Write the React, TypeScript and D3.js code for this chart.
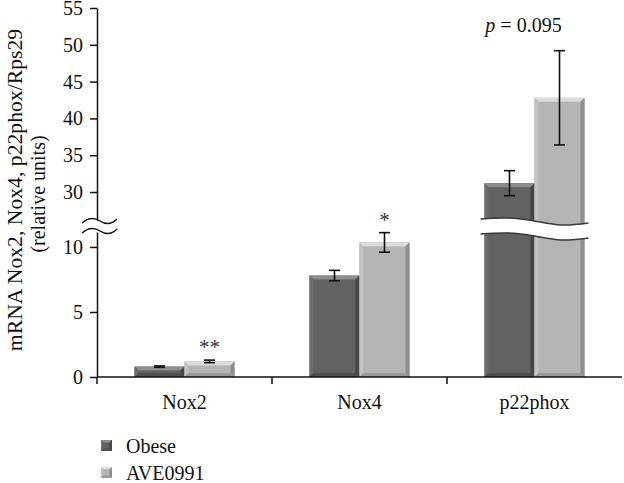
import * as d3 from "d3";
import { useEffect, useRef } from "react";

const categories = ["Nox2", "Nox4", "p22phox"];
const groups = ["Obese", "AVE0991"];
const obeseMeans = [0.8, 7.8, 31.2];
const obeseErrors = [0.05, 0.4, 1.7];
const aveMeans = [1.2, 10.35, 42.8];
const aveErrors = [0.1, 0.75, 6.4];
const lowTicks = [0, 5, 10];
const highTicks = [30, 35, 40, 45, 50, 55];
const marks = ["**", "*", ""];
const pNote = "0.095";

const W = 624;
const H = 483;
const FONT = "'Liberation Serif', 'Times New Roman', serif";

const shades = {
  Obese: { base: "#5a5a5a", mid: "#626262", top: "#8e8e8e", left: "#6c6c6c", right: "#474747", bottom: "#505050" },
  AVE0991: { base: "#a9a9a9", mid: "#b4b4b4", top: "#dcdcdc", left: "#c2c2c2", right: "#8e8e8e", bottom: "#9a9a9a" }
};

const drawBevel = (g, x, y, w, h, c, b) => {
  g.append("rect").attr("x", x).attr("y", y).attr("width", w).attr("height", h).attr("fill", c.base);
  g.append("rect")
    .attr("x", x + b).attr("y", y + b).attr("width", Math.max(0, w - 2 * b)).attr("height", Math.max(0, h - 2 * b))
    .attr("fill", c.mid);
  const poly = (pts, fill) =>
    g.append("polygon").attr("points", pts.map((p) => p.join(",")).join(" ")).attr("fill", fill);
  poly([[x, y], [x + w, y], [x + w - b, y + b], [x + b, y + b]], c.top);
  poly([[x, y], [x + b, y + b], [x + b, y + h - b], [x, y + h]], c.left);
  poly([[x + w, y], [x + w - b, y + b], [x + w - b, y + h - b], [x + w, y + h]], c.right);
  poly([[x, y + h], [x + b, y + h - b], [x + w - b, y + h - b], [x + w, y + h]], c.bottom);
};

const createChart = (node) => {
  const svg = d3.select(node);
  svg.selectAll("*").remove();

  const left = 97;
  const right = 622;
  const baseY = 377;
  const breakLow = 11.15;

  const x = d3.scaleBand().domain(categories).range([left, right]).paddingInner(0).paddingOuter(0);
  const xg = d3.scaleBand().domain(groups).range([0, x.bandwidth()]).paddingInner(0).paddingOuter(0.75);
  const yLow = d3.scaleLinear().domain([0, breakLow]).range([baseY, 232]);
  const yHigh = d3.scaleLinear().domain([26.2, 55]).range([220, 8]);
  const y = (v) => (v > breakLow ? yHigh(v) : yLow(v));

  const series = [
    { name: "Obese", means: obeseMeans, errs: obeseErrors },
    { name: "AVE0991", means: aveMeans, errs: aveErrors }
  ];

  // bars
  const bars = svg.append("g");
  series.forEach((s) => {
    categories.forEach((c, i) => {
      const x0 = x(c) + xg(s.name);
      const top = y(s.means[i]);
      drawBevel(bars, x0, top, xg.bandwidth(), baseY - top, shades[s.name], 4);
    });
  });

  // break across the p22phox bars
  const bx0 = x("p22phox") + xg("Obese") - 4;
  const bx1 = x("p22phox") + xg("AVE0991") + xg.bandwidth() + 4;
  const wave = [0, -1, 2, 6, 4];
  const wx = d3.scaleLinear().domain([0, wave.length - 1]).range([bx0, bx1]);
  const upper = wave.map((o, i) => [wx(i), 219 + o]);
  const lower = wave.map((o, i) => [wx(i), 234 + o]);
  const curve = d3.line().curve(d3.curveNatural);
  svg
    .append("path")
    .attr("d", curve(upper) + "L" + curve(lower.slice().reverse()).slice(1) + "Z")
    .attr("fill", "white");
  [upper, lower].forEach((pts) => {
    svg.append("path").attr("d", curve(pts)).attr("fill", "none").attr("stroke", "#3a3a3a").attr("stroke-width", 1.6);
  });

  // error bars
  const eb = svg.append("g").attr("stroke", "#111").attr("stroke-width", 1.6);
  series.forEach((s) => {
    categories.forEach((c, i) => {
      const cx = x(c) + xg(s.name) + xg.bandwidth() / 2;
      const y1 = y(s.means[i] + s.errs[i]);
      const y2 = y(s.means[i] - s.errs[i]);
      eb.append("line").attr("x1", cx).attr("x2", cx).attr("y1", y1).attr("y2", y2);
      eb.append("line").attr("x1", cx - 5.5).attr("x2", cx + 5.5).attr("y1", y1).attr("y2", y1);
      eb.append("line").attr("x1", cx - 5.5).attr("x2", cx + 5.5).attr("y1", y2).attr("y2", y2);
    });
  });

  // significance marks
  categories.forEach((c, i) => {
    if (!marks[i]) return;
    const cx = x(c) + xg("AVE0991") + xg.bandwidth() / 2;
    svg
      .append("text")
      .attr("x", cx)
      .attr("y", y(aveMeans[i] + aveErrors[i]) - 6)
      .attr("text-anchor", "middle")
      .attr("font-family", FONT)
      .attr("font-size", 21)
      .attr("fill", "#333")
      .text(marks[i]);
  });
  const pt = svg
    .append("text")
    .attr("x", x("p22phox") + x.bandwidth() / 2 - 11)
    .attr("y", 32)
    .attr("text-anchor", "middle")
    .attr("font-family", FONT)
    .attr("font-size", 20)
    .attr("fill", "#111");
  pt.append("tspan").attr("font-style", "italic").text("p");
  pt.append("tspan").text(" = " + pNote);

  // y axes
  const styleAxis = (g) => {
    g.attr("font-family", FONT).attr("font-size", 20);
    g.selectAll("text").attr("fill", "#111");
    g.selectAll("line").attr("stroke", "#111").attr("stroke-width", 1.5);
    g.select(".domain").attr("stroke", "#111").attr("stroke-width", 1.5);
  };
  svg
    .append("g")
    .attr("transform", `translate(${left},0)`)
    .call(d3.axisLeft(yLow).tickValues(lowTicks).tickSize(7).tickSizeOuter(0).tickPadding(7))
    .call(styleAxis);
  svg
    .append("g")
    .attr("transform", `translate(${left},0)`)
    .call(d3.axisLeft(yHigh).tickValues(highTicks).tickSize(7).tickSizeOuter(0).tickPadding(7))
    .call(styleAxis);

  // axis break marks
  const brk = svg.append("g").attr("fill", "none").attr("stroke", "#111").attr("stroke-width", 1.5);
  [221, 231].forEach((yy) => {
    brk.append("path").attr("d", `M${left - 15},${yy + 2} Q${left - 6},${yy - 6} ${left + 3},${yy} T${left + 20},${yy - 2}`);
  });

  // x axis
  const xa = svg.append("g").attr("stroke", "#111").attr("stroke-width", 1.5);
  xa.append("line").attr("x1", left).attr("x2", right).attr("y1", baseY).attr("y2", baseY);
  [left, ...categories.slice(1).map((c) => x(c))].forEach((tx) => {
    xa.append("line").attr("x1", tx).attr("x2", tx).attr("y1", baseY).attr("y2", baseY + 7);
  });
  svg
    .append("g")
    .selectAll("text")
    .data(categories)
    .join("text")
    .attr("x", (d) => x(d) + x.bandwidth() / 2)
    .attr("y", 409)
    .attr("text-anchor", "middle")
    .attr("font-family", FONT)
    .attr("font-size", 20)
    .attr("fill", "#111")
    .text((d) => d);

  // y label
  const yl = svg
    .append("text")
    .attr("transform", "rotate(-90)")
    .attr("text-anchor", "middle")
    .attr("font-family", FONT)
    .attr("fill", "#111");
  yl.append("tspan").attr("x", -190).attr("y", 22).attr("font-size", 21.7).text("mRNA Nox2, Nox4, p22phox/Rps29");
  yl.append("tspan").attr("x", -194).attr("y", 45).attr("font-size", 20).text("(relative units)");

  // legend
  const lg = svg.append("g");
  groups.forEach((name, i) => {
    const ly = 440 + i * 27;
    drawBevel(lg, 101, ly, 11, 11, shades[name], 2.5);
    lg.append("text")
      .attr("x", 126)
      .attr("y", ly + 13)
      .attr("font-family", FONT)
      .attr("font-size", 20)
      .attr("fill", "#111")
      .text(name);
  });
};

export default function App() {
  const ref = useRef(null);

  useEffect(() => {
    document.body.style.margin = "0";
    createChart(ref.current);
  }, []);

  return <svg ref={ref} width={W} height={H} style={{ display: "block", background: "white" }} />;
}
